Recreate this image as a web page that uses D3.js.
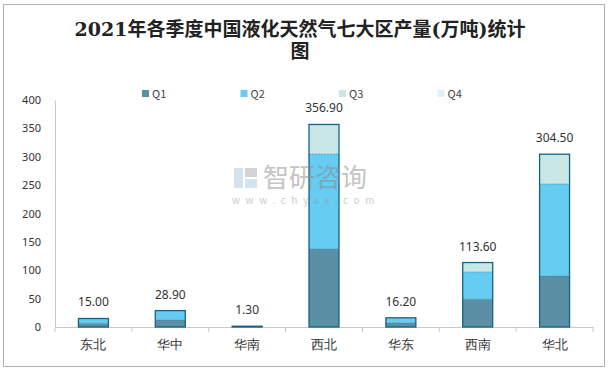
<!DOCTYPE html>
<html>
<head>
<meta charset="utf-8">
<script src="https://cdn.jsdelivr.net/npm/d3@7"></script>
<style>
  body { margin: 0; background: #fff; }
  svg { display: block; font-family: "Noto Sans CJK SC", "Noto Sans", sans-serif; }
</style>
</head>
<body>
<svg id="chart" width="609" height="372"></svg>
<script>
// data
var regions = ['东北', '华中', '华南', '西北', '华东', '西南', '华北']
var q1 = [6.5, 12.5, 1.3, 137.4, 7.5, 49.0, 90.0]
var q2 = [8.5, 16.4, 0, 167.4, 7.5, 48.0, 162.0]
var q3 = [0, 0, 0, 52.1, 1.2, 16.6, 52.5]
var q4 = [0, 0, 0, 0, 0, 0, 0]
var totals = [15.00, 28.90, 1.30, 356.90, 16.20, 113.60, 304.50]
var quarters = ['Q1', 'Q2', 'Q3', 'Q4']
var yTicks = [0, 50, 100, 150, 200, 250, 300, 350, 400]

var colors = ['#5b8fa6', '#66ccf2', '#c8e7e5', '#dcf2f8']

var svg = d3.select('#chart')

// outer frame
svg.append('rect')
  .attr('x', 3.5).attr('y', 4.5).attr('width', 601).attr('height', 362)
  .attr('fill', 'none').attr('stroke', '#b0b0b0')

// title
var title = svg.append('text')
  .attr('text-anchor', 'middle')
  .style('font-family', '"DejaVu Serif", "Noto Sans CJK SC", serif')
  .style('font-weight', 'bold')
  .style('font-size', '19px')
  .attr('fill', '#222')
title.append('tspan').attr('x', 300).attr('y', 36).text('2021年各季度中国液化天然气七大区产量(万吨)统计')
title.append('tspan').attr('x', 300).attr('y', 58).text('图')

var margin = { left: 55, right: 16, top: 100, bottom: 45 }
var width = 609 - margin.left - margin.right
var height = 372 - margin.top - margin.bottom

var x = d3.scaleBand().domain(regions).range([margin.left, margin.left + width]).paddingInner(0.61).paddingOuter(0.305)
var xEdges = d3.scaleBand().domain(regions).range([margin.left, margin.left + width])
var y = d3.scaleLinear().domain([0, 400]).range([margin.top + height, margin.top])

// legend
var legend = svg.append('g')
quarters.forEach(function(q, i) {
  var g = legend.append('g').attr('transform', 'translate(' + (142 + i * 98.5) + ',94)')
  g.append('rect').attr('x', 0).attr('y', -4).attr('width', 7).attr('height', 7).attr('fill', colors[i])
  g.append('text').attr('x', 10).attr('y', 4).style('font-size', '11px').attr('fill', '#444').text(q)
})

// y axis
var yAxis = d3.axisLeft(y).tickValues(yTicks).tickSize(0).tickPadding(14)
var gy = svg.append('g').attr('transform', 'translate(' + margin.left + ',0)').call(yAxis)
gy.select('.domain').attr('stroke', '#c8c8c8')
gy.selectAll('text').style('font-size', '11px').attr('fill', '#333').style('font-family', '"Noto Sans", sans-serif')

// x axis
var gx = svg.append('g').attr('transform', 'translate(0,' + (margin.top + height) + ')')
  .call(d3.axisBottom(x).tickSize(0).tickPadding(13))
gx.select('.domain').attr('stroke', '#c8c8c8')
gx.selectAll('text').style('font-size', '13px').attr('fill', '#333')
gx.selectAll('.edge').data(regions.concat(['_end'])).enter().append('line')
  .attr('class', 'edge')
  .attr('x1', function(d, i) { return margin.left + i * xEdges.bandwidth() })
  .attr('x2', function(d, i) { return margin.left + i * xEdges.bandwidth() })
  .attr('y1', 0).attr('y2', 5).attr('stroke', '#c8c8c8')

// stacked bars
var rows = regions.map(function(r, i) { return { region: r, Q1: q1[i], Q2: q2[i], Q3: q3[i], Q4: q4[i], total: totals[i] } })
var stack = d3.stack().keys(quarters)(rows)

svg.append('g').selectAll('g').data(stack).enter().append('g')
  .attr('fill', function(d, i) { return colors[i] })
  .selectAll('rect').data(function(d) { return d }).enter().append('rect')
  .attr('x', function(d) { return x(d.data.region) })
  .attr('width', x.bandwidth())
  .attr('y', function(d) { return y(d[1]) })
  .attr('height', function(d) { return y(d[0]) - y(d[1]) })

// faint dashed segment boundaries
svg.append('g').selectAll('line').data(stack[0].concat(stack[1]).filter(function(d) { return d[1] > d[0] })).enter().append('line')
  .attr('x1', function(d) { return x(d.data.region) })
  .attr('x2', function(d) { return x(d.data.region) + x.bandwidth() })
  .attr('y1', function(d) { return y(d[1]) })
  .attr('y2', function(d) { return y(d[1]) })
  .attr('stroke', '#3d7590').attr('stroke-width', 0.8).attr('stroke-dasharray', '2,1').attr('opacity', 0.6)

// outline of each stack
svg.append('g').selectAll('rect').data(stack[stack.length - 1]).enter().append('rect')
  .attr('x', function(d) { return x(d.data.region) })
  .attr('width', x.bandwidth())
  .attr('y', function(d) { return y(d[1]) })
  .attr('height', function(d) { return y(0) - y(d[1]) })
  .attr('fill', 'none').attr('stroke', '#13628a').attr('stroke-width', 1.3)

// total labels
svg.append('g').selectAll('text').data(rows).enter().append('text')
  .attr('x', function(d) { return x(d.region) + x.bandwidth() / 2 })
  .attr('y', function(d) { return y(d.Q1 + d.Q2 + d.Q3 + d.Q4) - 12 })
  .attr('text-anchor', 'middle')
  .style('font-size', '12px')
  .style('font-family', '"Noto Sans", sans-serif')
  .attr('fill', '#333')
  .text(function(d) { return d.total.toFixed(2) })

// watermark, drawn over the bars
var wm = svg.append('g').attr('opacity', 0.5)
wm.append('rect').attr('x', 234).attr('y', 168).attr('width', 9).attr('height', 20).attr('fill', '#a9c9e2')
wm.append('rect').attr('x', 245).attr('y', 168).attr('width', 12).attr('height', 9).attr('fill', '#aaaaaa')
wm.append('rect').attr('x', 245).attr('y', 179).attr('width', 12).attr('height', 9).attr('fill', '#a9c9e2')
wm.append('text').attr('x', 263).attr('y', 187).style('font-size', '26px').attr('fill', '#8a8a8a').text('智研咨询')
wm.append('text').attr('x', 232).attr('y', 204).style('font-size', '10px').style('letter-spacing', '5.6px')
  .attr('fill', '#999').text('www.chyxx.com')
</script>
</body>
</html>
